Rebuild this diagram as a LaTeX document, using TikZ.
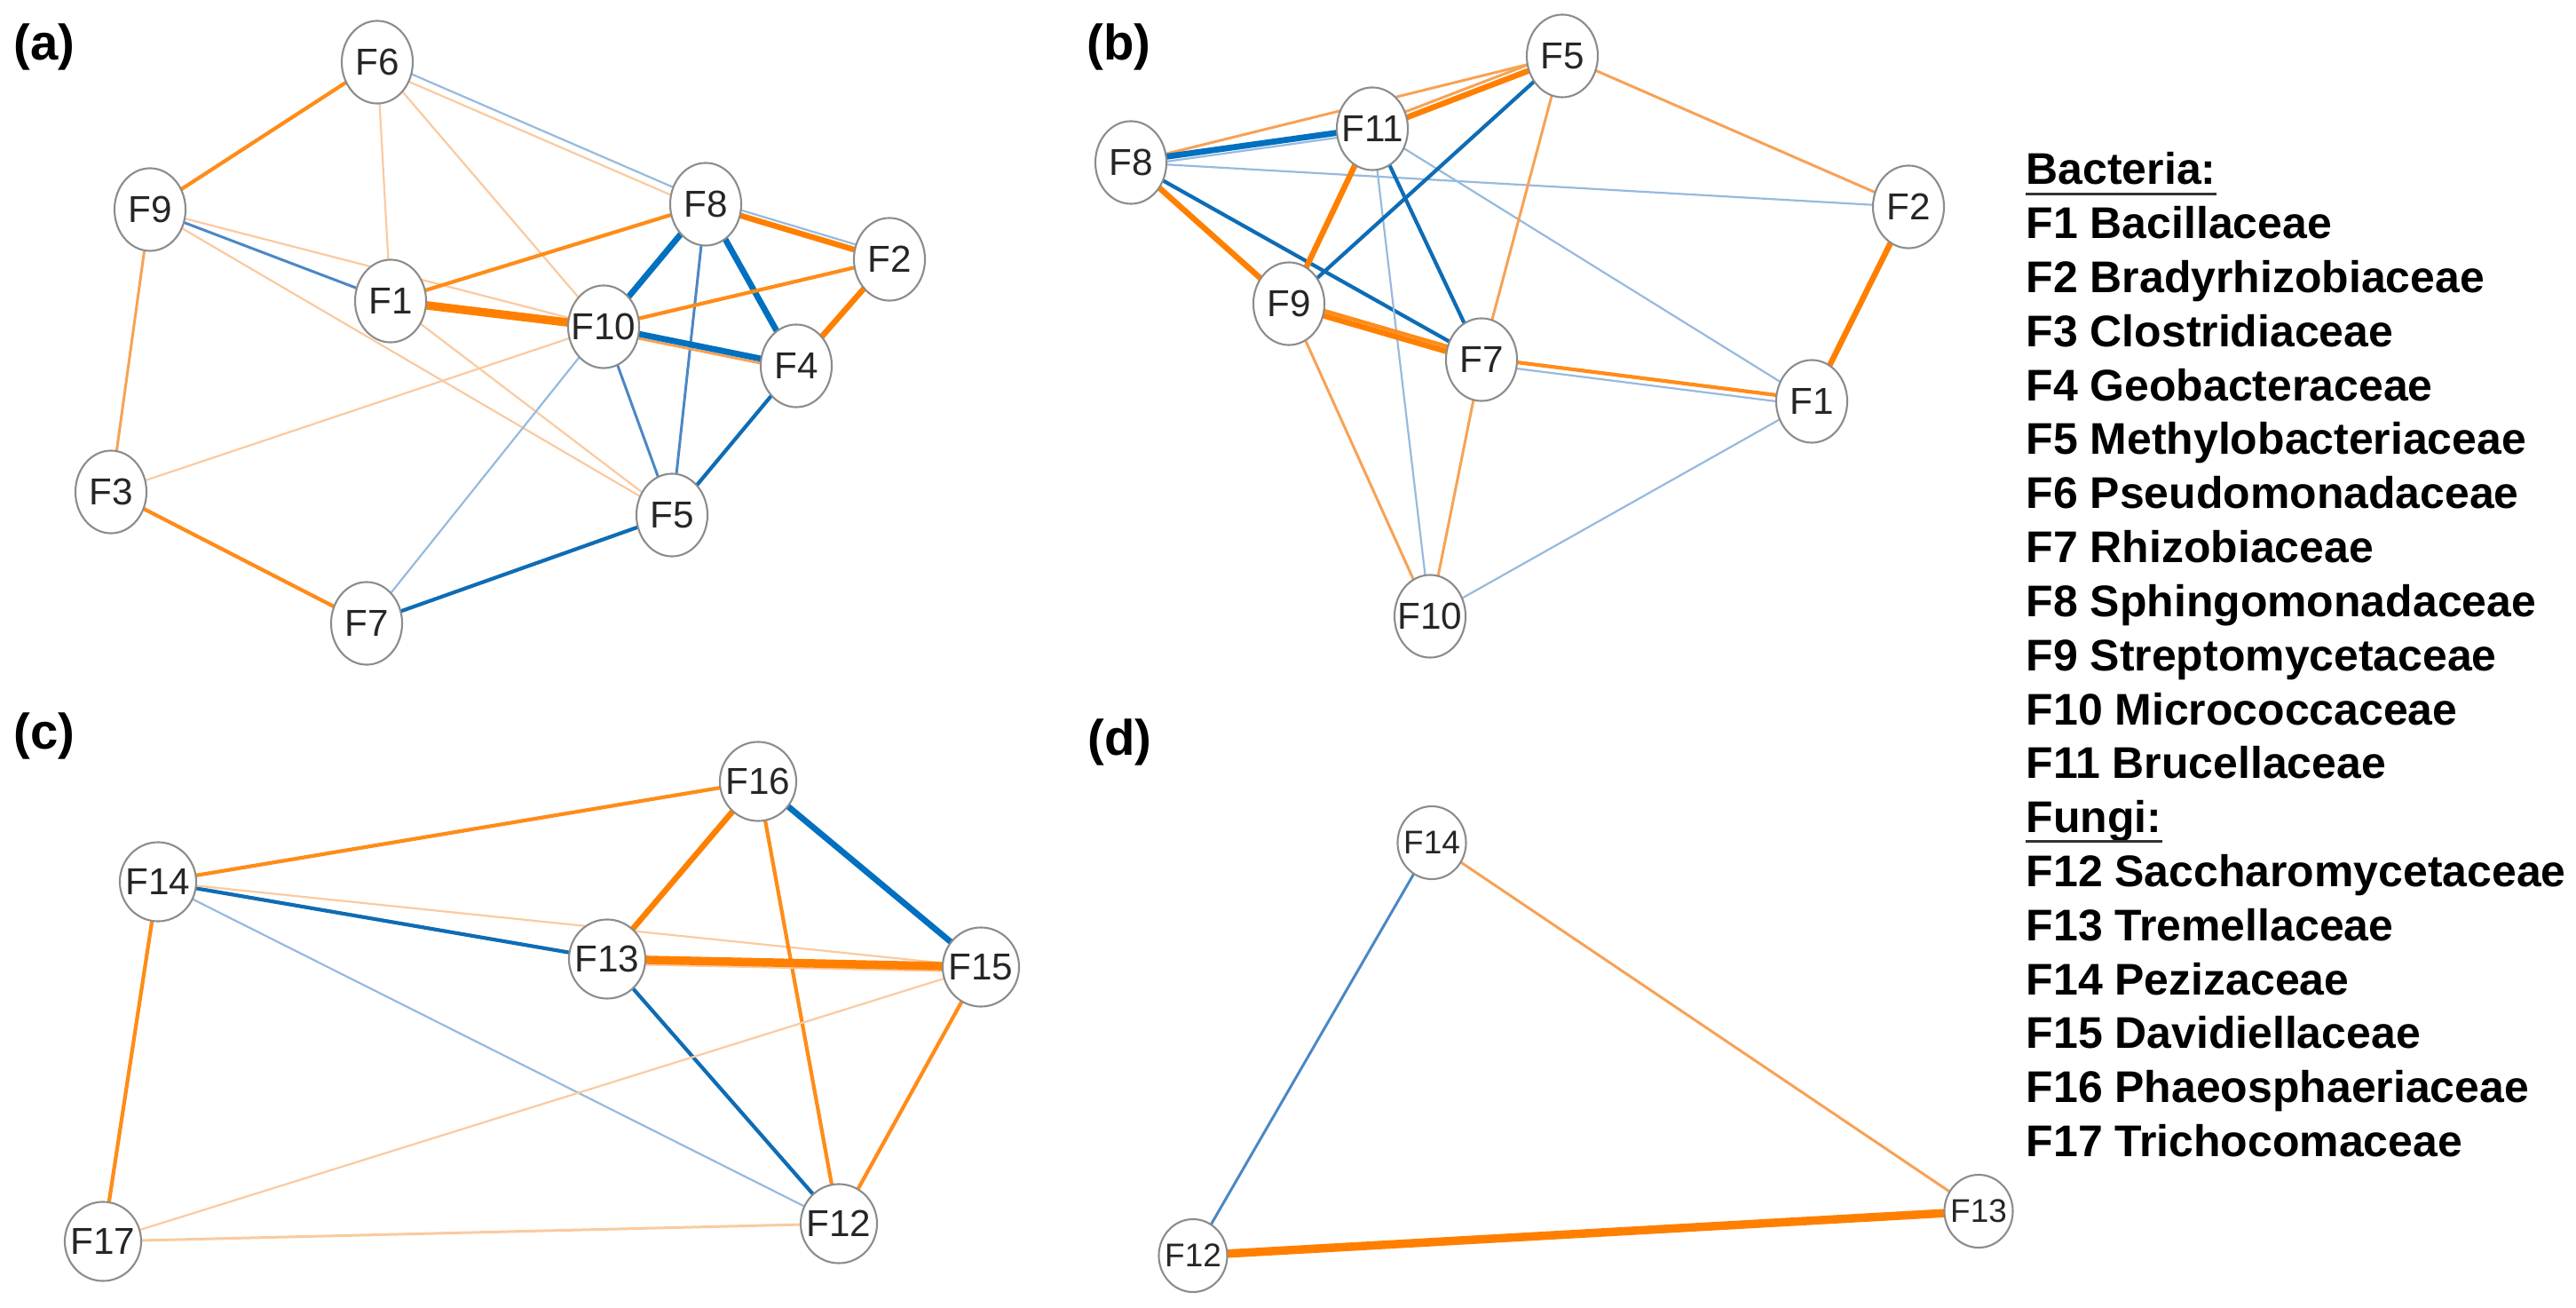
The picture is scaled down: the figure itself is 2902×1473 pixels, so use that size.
\documentclass[tikz,border=0pt]{standalone}
\usepackage{fontspec}
\setmainfont{Liberation Sans}
\usetikzlibrary{shapes.geometric,calc}
\pgfdeclarelayer{bg}
\pgfsetlayers{bg,main}
\definecolor{ndgray}{RGB}{140,140,140}
\definecolor{oA}{RGB}{250,202,160}
\definecolor{oB}{RGB}{247,162,85}
\definecolor{oC}{RGB}{255,140,25}
\definecolor{oD}{RGB}{255,128,0}
\definecolor{bA}{RGB}{150,186,222}
\definecolor{bB}{RGB}{75,135,198}
\definecolor{bC}{RGB}{15,108,180}
\definecolor{bD}{RGB}{0,112,192}
\newcommand\nlab[1]{\makebox[0pt][c]{#1}}
\tikzset{
  nd/.style={ellipse, draw=ndgray, line width=0.6pt, fill=white, inner sep=0pt,
    minimum width=0.80cm, minimum height=0.93cm, font=\fontsize{12}{14}\selectfont, text=black!85},
  ndc/.style={nd, minimum width=0.86cm, minimum height=0.89cm},
  ndd/.style={nd, minimum width=0.77cm, minimum height=0.82cm, font=\fontsize{10.5}{12}\selectfont},
  o1/.style={draw=oA, line width=0.022cm},
  o2/.style={draw=oB, line width=0.03cm},
  o3/.style={draw=oC, line width=0.042cm},
  o4/.style={draw=oD, line width=0.065cm},
  o5/.style={draw=oD, line width=0.095cm},
  b1/.style={draw=bA, line width=0.022cm},
  b2/.style={draw=bB, line width=0.03cm},
  b3/.style={draw=bC, line width=0.042cm},
  b4/.style={draw=bD, line width=0.068cm},
  plab/.style={anchor=base west, inner sep=0pt, font=\fontsize{16}{18}\selectfont\bfseries},
  leg/.style={anchor=base west, inner sep=0pt, font=\fontsize{14.2}{16}\selectfont\bfseries},
}
% offset edge: #1 style, #2 from, #3 to, #4 offset
\newcommand\oedge[4]{\draw[#1] ($(#2.center)!#4!90:(#3.center)$) -- ($(#3.center)!#4!-90:(#2.center)$);}
\begin{document}
\begin{tikzpicture}[x=0.01cm,y=-0.01cm]
\useasboundingbox (0,0) rectangle (2902,1473);
% ---------- panel labels
\node[plab] (la) at (15,68) {(a)};
\node[plab] (lb) at (1224,68) {(b)};
\node[plab] (lc) at (15,843) {(c)};
\node[plab] (ld) at (1225,850) {(d)};
% ---------- panel (a)
\node[nd] (aF6) at (425,70) {\nlab{F6}};
\node[nd] (aF9) at (169,236) {\nlab{F9}};
\node[nd] (aF8) at (795,230) {\nlab{F8}};
\node[nd] (aF2) at (1002,292) {\nlab{F2}};
\node[nd] (aF1) at (440,339) {\nlab{F1}};
\node[nd] (aF10) at (680,368) {\nlab{F10}};
\node[nd] (aF4) at (897,412) {\nlab{F4}};
\node[nd] (aF3) at (125,554) {\nlab{F3}};
\node[nd] (aF5) at (757,580) {\nlab{F5}};
\node[nd] (aF7) at (413,702) {\nlab{F7}};
\begin{pgfonlayer}{bg}
\draw[o3] (aF6.center) -- (aF9.center);
\draw[o1] (aF6.center) -- (aF1.center);
\draw[o1] (aF6.center) -- (aF10.center);
\oedge{b1}{aF6}{aF8}{0.03cm}
\oedge{o1}{aF6}{aF8}{-0.06cm}
\draw[b2] (aF9.center) -- (aF1.center);
\draw[o1] (aF9.center) -- (aF10.center);
\draw[o1] (aF9.center) -- (aF5.center);
\draw[o2] (aF9.center) -- (aF3.center);
\draw[o3] (aF1.center) -- (aF8.center);
\draw[o5] (aF1.center) -- (aF10.center);
\draw[o1] (aF1.center) -- (aF5.center);
\oedge{b1}{aF8}{aF2}{0.05cm}
\oedge{o4}{aF8}{aF2}{-0.01cm}
\draw[b4] (aF8.center) -- (aF10.center);
\draw[b4] (aF8.center) -- (aF4.center);
\draw[b2] (aF8.center) -- (aF5.center);
\draw[o3] (aF2.center) -- (aF10.center);
\draw[o4] (aF2.center) -- (aF4.center);
\oedge{o2}{aF10}{aF4}{-0.05cm}
\draw[b4] (aF10.center) -- (aF4.center);
\draw[b2] (aF10.center) -- (aF5.center);
\draw[o1] (aF10.center) -- (aF3.center);
\draw[b1] (aF10.center) -- (aF7.center);
\draw[b3] (aF4.center) -- (aF5.center);
\draw[o3] (aF3.center) -- (aF7.center);
\draw[b3] (aF7.center) -- (aF5.center);
\end{pgfonlayer}
% ---------- panel (b)
\node[nd] (bF5) at (1760,63) {\nlab{F5}};
\node[nd] (bF11) at (1546,145) {\nlab{F11}};
\node[nd] (bF8) at (1274,183) {\nlab{F8}};
\node[nd] (bF2) at (2150,233) {\nlab{F2}};
\node[nd] (bF9) at (1452,342) {\nlab{F9}};
\node[nd] (bF7) at (1669,405) {\nlab{F7}};
\node[nd] (bF1) at (2041,452) {\nlab{F1}};
\node[nd] (bF10) at (1611,694) {\nlab{F10}};
\begin{pgfonlayer}{bg}
\draw[o2] (bF8.center) -- (bF5.center);
\oedge{o2}{bF11}{bF5}{0.045cm}
\oedge{o4}{bF11}{bF5}{-0.02cm}
\oedge{b1}{bF8}{bF11}{-0.045cm}
\oedge{b4}{bF8}{bF11}{0.01cm}
\draw[b1] (bF8.center) -- (bF2.center);
\draw[o4] (bF8.center) -- (bF9.center);
\draw[b3] (bF8.center) -- (bF7.center);
\draw[o4] (bF11.center) -- (bF9.center);
\draw[b3] (bF11.center) -- (bF7.center);
\draw[b1] (bF11.center) -- (bF10.center);
\draw[b1] (bF11.center) -- (bF1.center);
\draw[b3] (bF5.center) -- (bF9.center);
\draw[o2] (bF5.center) -- (bF7.center);
\draw[o2] (bF5.center) -- (bF2.center);
\draw[o4] (bF2.center) -- (bF1.center);
\oedge{o3}{bF9}{bF7}{0.035cm}
\oedge{o4}{bF9}{bF7}{-0.02cm}
\draw[o2] (bF9.center) -- (bF10.center);
\oedge{o3}{bF7}{bF1}{0.02cm}
\oedge{b1}{bF7}{bF1}{-0.05cm}
\draw[o2] (bF7.center) -- (bF10.center);
\draw[b1] (bF1.center) -- (bF10.center);
\end{pgfonlayer}
% ---------- panel (c)
\node[ndc] (cF16) at (854,880) {\nlab{F16}};
\node[ndc] (cF14) at (178,993) {\nlab{F14}};
\node[ndc] (cF13) at (684,1080) {\nlab{F13}};
\node[ndc] (cF15) at (1105,1089) {\nlab{F15}};
\node[ndc] (cF17) at (116,1398) {\nlab{F17}};
\node[ndc] (cF12) at (945,1378) {\nlab{F12}};
\begin{pgfonlayer}{bg}
\draw[o3] (cF14.center) -- (cF16.center);
\draw[b3] (cF14.center) -- (cF13.center);
\draw[o1] (cF14.center) -- (cF15.center);
\draw[b1] (cF14.center) -- (cF12.center);
\draw[o3] (cF14.center) -- (cF17.center);
\draw[o4] (cF16.center) -- (cF13.center);
\draw[b4] (cF16.center) -- (cF15.center);
\draw[o3] (cF16.center) -- (cF12.center);
\oedge{o1}{cF13}{cF15}{-0.055cm}
\draw[o5] (cF13.center) -- (cF15.center);
\draw[b3] (cF13.center) -- (cF12.center);
\draw[o3] (cF15.center) -- (cF12.center);
\draw[o1] (cF15.center) -- (cF17.center);
\draw[o1, line width=0.03cm] (cF17.center) -- (cF12.center);
\end{pgfonlayer}
% ---------- panel (d)
\node[ndd] (dF14) at (1613,949) {\nlab{F14}};
\node[ndd] (dF13) at (2229,1364) {\nlab{F13}};
\node[ndd] (dF12) at (1344,1414) {\nlab{F12}};
\begin{pgfonlayer}{bg}
\draw[b2] (dF14.center) -- (dF12.center);
\draw[o2] (dF14.center) -- (dF13.center);
\draw[o5] (dF12.center) -- (dF13.center);
\end{pgfonlayer}
% ---------- legend
\node[leg] (lg0) at (2282,208) {Bacteria:};
\draw[line width=0.03cm, black!80] ([yshift=-0.1cm]lg0.base west) -- ([yshift=-0.1cm]lg0.base east);
\node[leg] (lg1) at (2282,268.8) {F1 Bacillaceae};
\node[leg] (lg2) at (2282,329.6) {F2 Bradyrhizobiaceae};
\node[leg] (lg3) at (2282,390.4) {F3 Clostridiaceae};
\node[leg] (lg4) at (2282,451.2) {F4 Geobacteraceae};
\node[leg] (lg5) at (2282,512) {F5 Methylobacteriaceae};
\node[leg] (lg6) at (2282,572.8) {F6 Pseudomonadaceae};
\node[leg] (lg7) at (2282,633.6) {F7 Rhizobiaceae};
\node[leg] (lg8) at (2282,694.4) {F8 Sphingomonadaceae};
\node[leg] (lg9) at (2282,755.2) {F9 Streptomycetaceae};
\node[leg] (lg10) at (2282,816) {F10 Micrococcaceae};
\node[leg] (lg11) at (2282,876.8) {F11 Brucellaceae};
\node[leg] (lg12) at (2282,937.6) {Fungi:};
\draw[line width=0.03cm, black!80] ([yshift=-0.1cm]lg12.base west) -- ([yshift=-0.1cm]lg12.base east);
\node[leg] (lg13) at (2282,998.4) {F12 Saccharomycetaceae};
\node[leg] (lg14) at (2282,1059.2) {F13 Tremellaceae};
\node[leg] (lg15) at (2282,1120) {F14 Pezizaceae};
\node[leg] (lg16) at (2282,1180.8) {F15 Davidiellaceae};
\node[leg] (lg17) at (2282,1241.6) {F16 Phaeosphaeriaceae};
\node[leg] (lg18) at (2282,1302.4) {F17 Trichocomaceae};
\end{tikzpicture}
\end{document}
